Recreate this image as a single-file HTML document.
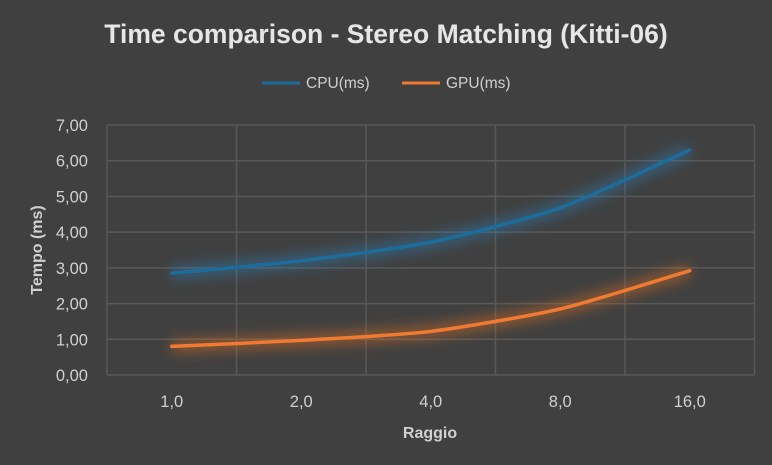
<!DOCTYPE html>
<html><head><meta charset="utf-8"><style>
body{margin:0;background:#404040;}
svg{display:block;font-family:"Liberation Sans",sans-serif;}
</style></head><body>
<svg id="c" width="772" height="465">
<defs>
<filter id="glow" x="-20%" y="-50%" width="140%" height="200%"><feGaussianBlur stdDeviation="6"/></filter>
</defs>
<rect width="772" height="465" fill="#404040"/>
<text x="386" y="43" text-anchor="middle" fill="#e6e6e6" font-size="26.5" font-weight="bold">Time comparison - Stereo Matching (Kitti-06)</text>
<g>
<g><line x1="262" y1="83" x2="300" y2="83" stroke="#1c6c9c" stroke-width="3"/><text x="306" y="88" fill="#d0d0d0" font-size="15.5">CPU(ms)</text></g>
<g><line x1="402" y1="83" x2="440" y2="83" stroke="#f07a30" stroke-width="3"/><text x="446" y="88" fill="#d0d0d0" font-size="15.5">GPU(ms)</text></g>
</g>
<g id="grid"></g>
<g id="ylab"></g>
<g id="xlab"></g>
<g id="series"></g>
<text transform="translate(42,250) rotate(-90)" text-anchor="middle" fill="#d0d0d0" font-size="16" font-weight="bold">Tempo (ms)</text>
<text x="430" y="438" text-anchor="middle" fill="#d0d0d0" font-size="16" font-weight="bold">Raggio</text>
</svg>
<script>
const categories=["1,0","2,0","4,0","8,0","16,0"];
const cpuValues=[2.85,3.2,3.72,4.68,6.3];
const gpuValues=[0.8,0.97,1.22,1.85,2.92];
const yTicks=[0,1,2,3,4,5,6,7];
const L=107,R=754.5,T=125,B=375,YMAX=7;
const ns="http://www.w3.org/2000/svg";
const step=(R-L)/categories.length;
const xs=i=>L+step*(i+0.5);
const ys=v=>B-(v/YMAX)*(B-T);
function mk(t,a,p){const e=document.createElementNS(ns,t);for(const k in a)e.setAttribute(k,a[k]);p.appendChild(e);return e;}
const grid=document.getElementById('grid'),ylab=document.getElementById('ylab'),xlab=document.getElementById('xlab'),ser=document.getElementById('series');
yTicks.forEach(v=>{
 const l=mk('line',{x1:L,x2:R,y1:ys(v),y2:ys(v),stroke:'#595959','stroke-width':1.5},grid);
 
 
 const t=mk('text',{x:88,y:ys(v)+6,'text-anchor':'end',fill:'#d0d0d0','font-size':16.5},ylab);
 t.textContent=v.toFixed(2).replace('.',',');
 
 
});
for(let i=0;i<=categories.length;i++){
 const l=mk('line',{x1:L+step*i,x2:L+step*i,y1:T,y2:B,stroke:'#595959','stroke-width':1.5},grid);
 
 
}
categories.forEach((c,i)=>{
 const t=mk('text',{x:xs(i),y:407,'text-anchor':'middle',fill:'#d0d0d0','font-size':16.5},xlab);
 t.textContent=c;
 
 
});
function smooth(vals){
 const p=vals.map((v,i)=>[xs(i),ys(v)]);
 let d='M'+p[0][0]+','+p[0][1];
 for(let i=0;i<p.length-1;i++){
  const p0=p[i-1]||p[i],p1=p[i],p2=p[i+1],p3=p[i+2]||p2,k=1/9;
  d+=` C${p1[0]+(p2[0]-p0[0])*k},${p1[1]+(p2[1]-p0[1])*k} ${p2[0]-(p3[0]-p1[0])*k},${p2[1]-(p3[1]-p1[1])*k} ${p2[0]},${p2[1]}`;
 }
 return d;
}
[[cpuValues,'#1c6c9c','#2a7fb8','cpu'],[gpuValues,'#f07a30','#e07020','gpu']].forEach(([vals,col,gc,n])=>{
 const g=mk('path',{d:smooth(vals),fill:'none',stroke:gc,'stroke-width':14,opacity:0.45,filter:'url(#glow)'},ser);
 
 
 const l=mk('path',{d:smooth(vals),fill:'none',stroke:col,'stroke-width':3.5,'stroke-linecap':'round'},ser);
 
 
});
</script>
</body></html>
